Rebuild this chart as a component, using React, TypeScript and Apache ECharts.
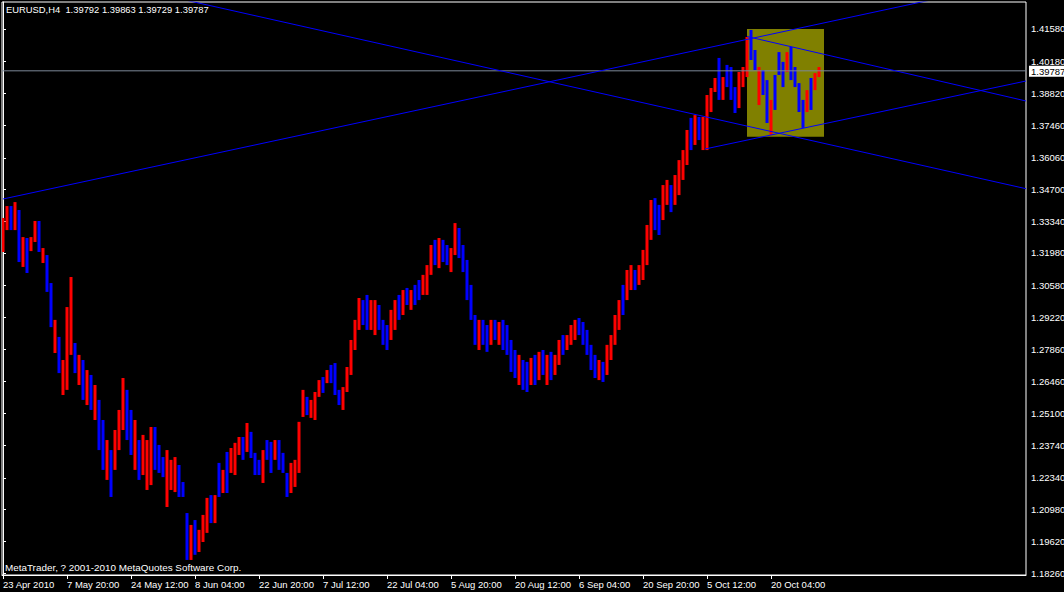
import React, { useEffect, useRef } from 'react';
import * as echarts from 'echarts';

const symbolTitle = 'EURUSD,H4  1.39792 1.39863 1.39729 1.39787';
const copyright = 'MetaTrader, ? 2001-2010 MetaQuotes Software Corp.';

const xTickLabels = [
  '23 Apr 2010', '7 May 20:00', '24 May 12:00', '8 Jun 04:00', '22 Jun 20:00',
  '7 Jul 12:00', '22 Jul 04:00', '5 Aug 20:00', '20 Aug 12:00', '6 Sep 04:00',
  '20 Sep 20:00', '5 Oct 12:00', '20 Oct 04:00',
];
const BARS_PER_LABEL = 16;

const yTickValues = [
  1.1826, 1.1962, 1.2098, 1.2234, 1.2374, 1.251, 1.2646, 1.2786, 1.2922,
  1.3058, 1.3198, 1.3334, 1.347, 1.3606, 1.3746, 1.3882, 1.4018, 1.4158,
];

const highs = [
  1.3348, 1.3399, 1.3399, 1.3416, 1.3382, 1.3266, 1.3262, 1.3266, 1.3335, 1.3335,
  1.3219, 1.3189, 1.3069, 1.2911, 1.2838, 1.2739, 1.2966, 1.3095, 1.2812, 1.2761,
  1.2739, 1.2696, 1.2675, 1.2632, 1.2568, 1.2482, 1.2396, 1.2353, 1.2439, 1.2525,
  1.2662, 1.2611, 1.2525, 1.2482, 1.2396, 1.2418, 1.2396, 1.2452, 1.2452, 1.2375,
  1.2323, 1.2353, 1.2311, 1.2323, 1.2289, 1.2216, 1.2083, 1.2032, 1.2053, 1.2011,
  1.2075, 1.2148, 1.216, 1.216, 1.2298, 1.2268, 1.2345, 1.2362, 1.2384, 1.2409,
  1.2409, 1.2469, 1.2431, 1.2341, 1.2311, 1.2353, 1.2396, 1.2388, 1.2396, 1.2396,
  1.2341, 1.2255, 1.2298, 1.2311, 1.2474, 1.2611, 1.2581, 1.2568, 1.2602, 1.2653,
  1.2666, 1.2696, 1.2718, 1.2726, 1.2611, 1.2623, 1.2709, 1.2825, 1.2911, 1.3005,
  1.2996, 1.3018, 1.2996, 1.2996, 1.2975, 1.2911, 1.2889, 1.2954, 1.2996, 1.3018,
  1.3039, 1.3048, 1.3039, 1.3061, 1.3082, 1.3104, 1.3146, 1.3232, 1.3254, 1.3262,
  1.3254, 1.3232, 1.3219, 1.3326, 1.3305, 1.3232, 1.3168, 1.3061, 1.2932, 1.2911,
  1.2911, 1.2889, 1.2911, 1.2911, 1.2902, 1.2911, 1.2889, 1.2825, 1.2782, 1.2761,
  1.2739, 1.2731, 1.2748, 1.2761, 1.2774, 1.2782, 1.2761, 1.2774, 1.2761, 1.2825,
  1.2846, 1.2846, 1.2889, 1.2911, 1.2919, 1.2902, 1.2868, 1.2804, 1.2761, 1.2739,
  1.2731, 1.2804, 1.2846, 1.2932, 1.2996, 1.3061, 1.3125, 1.3146, 1.3125, 1.3146,
  1.3211, 1.3318, 1.3425, 1.3433, 1.3404, 1.3489, 1.3511, 1.3489, 1.3532, 1.3596,
  1.3639, 1.3725, 1.3777, 1.3789, 1.3781, 1.3781, 1.3875, 1.3905, 1.3948, 1.4034,
  1.3952, 1.4004, 1.3995, 1.3909, 1.3974, 1.3995, 1.4124, 1.4154, 1.4068, 1.3995,
  1.3982, 1.3939, 1.3854, 1.3961, 1.4059, 1.4017, 1.4059, 1.4081, 1.3995, 1.3926,
  1.3854, 1.3896, 1.3948, 1.3969, 1.3995,
];

const lows = [
  1.3202, 1.3296, 1.3296, 1.3296, 1.3159, 1.3138, 1.3112, 1.3206, 1.3245, 1.3202,
  1.3155, 1.3031, 1.288, 1.2769, 1.2683, 1.2589, 1.2611, 1.2761, 1.2683, 1.2632,
  1.2568, 1.2546, 1.2525, 1.2482, 1.2353, 1.2268, 1.2225, 1.2152, 1.2268, 1.2353,
  1.2439, 1.2396, 1.2332, 1.2268, 1.2225, 1.2246, 1.2182, 1.2203, 1.2268, 1.2255,
  1.2237, 1.2109, 1.2182, 1.2173, 1.2152, 1.2152, 1.1882, 1.1882, 1.1904, 1.1916,
  1.1959, 1.1998, 1.204, 1.204, 1.2152, 1.2169, 1.2169, 1.2255, 1.2246, 1.2332,
  1.2311, 1.2345, 1.2319, 1.2246, 1.2246, 1.2212, 1.2311, 1.2255, 1.2311, 1.2268,
  1.2255, 1.2152, 1.2169, 1.2195, 1.2255, 1.2495, 1.2503, 1.2491, 1.2482, 1.2581,
  1.2598, 1.264, 1.264, 1.2589, 1.2546, 1.2525, 1.2602, 1.2675, 1.2782, 1.2868,
  1.2889, 1.2868, 1.2868, 1.2846, 1.2868, 1.2804, 1.2782, 1.2825, 1.2868, 1.2911,
  1.2932, 1.2975, 1.2954, 1.2975, 1.2996, 1.3018, 1.3018, 1.3104, 1.3146, 1.3133,
  1.3159, 1.3146, 1.3116, 1.3189, 1.3176, 1.3116, 1.2996, 1.2911, 1.2804, 1.2782,
  1.2804, 1.2774, 1.2804, 1.2825, 1.2804, 1.2782, 1.2761, 1.2688, 1.2662, 1.2632,
  1.2611, 1.2602, 1.2632, 1.2632, 1.2653, 1.2675, 1.2632, 1.2653, 1.2675, 1.2718,
  1.2761, 1.2782, 1.2804, 1.2825, 1.2846, 1.2804, 1.2761, 1.2696, 1.2662, 1.2653,
  1.2645, 1.2675, 1.2739, 1.2804, 1.2868, 1.2932, 1.2996, 1.3039, 1.3039, 1.3061,
  1.3082, 1.3146, 1.3254, 1.3296, 1.3275, 1.3339, 1.3404, 1.3373, 1.3404, 1.3446,
  1.3511, 1.3575, 1.3639, 1.3661, 1.3682, 1.3639, 1.3639, 1.3802, 1.3888, 1.3854,
  1.3854, 1.3909, 1.3854, 1.3798, 1.3819, 1.3909, 1.3952, 1.4025, 1.3982, 1.3832,
  1.3875, 1.3755, 1.3704, 1.3811, 1.3961, 1.3909, 1.3974, 1.3939, 1.3909, 1.3802,
  1.3734, 1.3802, 1.3811, 1.3896, 1.3952,
];

// 1 = up bar (red), 0 = down bar (blue)
const ups = [
  1, 1, 0, 1, 0, 1, 0, 1, 1, 0,
  1, 0, 0, 1, 0, 1, 1, 1, 0, 1,
  0, 1, 0, 1, 0, 0, 1, 0, 1, 1,
  1, 0, 0, 1, 0, 1, 1, 1, 0, 0,
  0, 1, 1, 1, 0, 0, 0, 1, 0, 1,
  1, 1, 0, 1, 0, 1, 0, 1, 1, 1,
  0, 1, 0, 0, 0, 1, 0, 0, 1, 0,
  0, 0, 1, 1, 1, 1, 0, 1, 1, 1,
  0, 1, 0, 0, 0, 1, 1, 1, 1, 1,
  0, 0, 1, 1, 0, 0, 0, 1, 1, 0,
  1, 0, 1, 0, 0, 1, 1, 1, 0, 1,
  0, 0, 1, 1, 0, 0, 0, 0, 0, 1,
  0, 0, 1, 0, 1, 0, 0, 0, 0, 1,
  0, 0, 1, 0, 1, 0, 1, 0, 1, 1,
  0, 1, 1, 1, 0, 0, 0, 0, 0, 1,
  0, 1, 1, 1, 1, 0, 1, 1, 0, 1,
  1, 1, 1, 0, 0, 1, 1, 0, 1, 1,
  1, 1, 0, 1, 0, 1, 1, 1, 1, 0,
  1, 0, 0, 0, 1, 1, 1, 0, 0, 1,
  0, 0, 1, 0, 0, 0, 1, 0, 0, 0,
  0, 1, 0, 1, 1,
];

const lastPrice = 1.39787;

// trend lines: [barIndex, price] endpoints
const trendA = [[0, 1.34292], [250, 1.43488]];
const trendB = [[36.75, 1.43162], [255.75, 1.34734]];
const trendC = [[186, 1.41258], [255.75, 1.38494]];
const trendD = [[175.5, 1.36436], [255.75, 1.39351]];
// highlight rectangle: [fromBar, topPrice, toBar, bottomPrice]
const highlightBox = [186, 1.4158, 205.25, 1.36963];

const X_MIN = -0.25;
const X_MAX = 255.75;
const Y_MIN = 1.181747;
const Y_MAX = 1.427374;

const FONT = "'Liberation Sans', Arial, sans-serif";

export default function App() {
  const ref = useRef<HTMLDivElement>(null);
  useEffect(() => {
    const chart = echarts.init(ref.current!, null, { renderer: 'svg' });
    const barData = highs.map((h, i) => [i, h, lows[i], ups[i]]);
    const lineSeries = (data: number[][], color = '#0000ff', z = 4) => ({
      type: 'line',
      data,
      symbol: 'none',
      clip: true,
      silent: true,
      z,
      lineStyle: { color, width: 1 },
    });
    chart.setOption({
      animation: false,
      backgroundColor: '#000',
      title: [
        {
          text: symbolTitle,
          left: 6,
          top: 5,
          padding: 0,
          textStyle: { color: '#fff', fontSize: 9.4, fontWeight: 'normal', fontFamily: FONT },
        },
        {
          text: copyright,
          left: 5,
          top: 562,
          padding: 0,
          textStyle: { color: '#fff', fontSize: 9.9, fontWeight: 'normal', fontFamily: FONT },
        },
      ],
      grid: {
        left: 2,
        top: 2,
        right: 38,
        bottom: 17,
        outerBoundsMode: 'none',
        containLabel: false,
        show: true,
        borderColor: '#fff',
        borderWidth: 1,
        backgroundColor: '#000',
      },
      xAxis: {
        type: 'value',
        min: X_MIN,
        max: X_MAX,
        splitLine: { show: false },
        axisLine: { show: true, lineStyle: { color: '#fff', width: 1 } },
        axisTick: {
          show: true,
          length: 4,
          lineStyle: { color: '#fff' },
          customValues: xTickLabels.map((_, k) => k * BARS_PER_LABEL),
        },
        axisLabel: {
          color: '#fff',
          fontSize: 9.5,
          fontFamily: FONT,
          margin: 4,
          align: 'left',
          hideOverlap: false,
          customValues: xTickLabels.map((_, k) => k * BARS_PER_LABEL),
          formatter: (v: number) => xTickLabels[Math.round(v / BARS_PER_LABEL)] ?? '',
        },
      },
      yAxis: {
        type: 'value',
        position: 'right',
        min: Y_MIN,
        max: Y_MAX,
        splitLine: { show: false },
        axisLine: { show: true, lineStyle: { color: '#fff', width: 1 } },
        axisTick: {
          show: true,
          length: 3,
          lineStyle: { color: '#fff' },
          customValues: yTickValues,
        },
        axisLabel: {
          color: '#fff',
          fontSize: 9.5,
          lineHeight: 9,
          fontFamily: FONT,
          margin: 5,
          customValues: yTickValues,
          formatter: (v: number) => v.toFixed(5),
        },
      },
      series: [
        {
          type: 'custom',
          silent: true,
          z: 1,
          clip: true,
          data: [highlightBox],
          renderItem: (params: any, api: any) => {
            const p1 = api.coord([api.value(0), api.value(1)]);
            const p2 = api.coord([api.value(2), api.value(3)]);
            return {
              type: 'rect',
              shape: { x: p1[0], y: p1[1], width: p2[0] - p1[0], height: p2[1] - p1[1] },
              style: { fill: '#808000' },
            };
          },
        },
        {
          type: 'custom',
          silent: true,
          z: 2,
          clip: true,
          data: barData,
          encode: { x: 0, y: [1, 2] },
          renderItem: (params: any, api: any) => {
            const i = api.value(0);
            const top = api.coord([i, api.value(1)]);
            const bot = api.coord([i, api.value(2)]);
            return {
              type: 'rect',
              shape: {
                x: Math.round(top[0]) - 1.5,
                y: top[1],
                width: 3,
                height: Math.max(1, bot[1] - top[1]),
              },
              style: { fill: api.value(3) ? '#ff0000' : '#0000ff' },
            };
          },
        },
        lineSeries([[X_MIN, lastPrice], [X_MAX, lastPrice]], '#7d8898', 3),
        {
          type: 'custom',
          silent: true,
          z: 6,
          clip: false,
          data: [[X_MAX, lastPrice]],
          renderItem: (params: any, api: any) => {
            const p = api.coord([api.value(0), api.value(1)]);
            return {
              type: 'text',
              x: p[0] + 3,
              y: p[1] + 0.5,
              style: {
                text: api.value(1).toFixed(5),
                fill: '#000',
                backgroundColor: '#fff',
                padding: [1, 2, 0, 2],
                font: `9.5px ${FONT}`,
                align: 'left',
                verticalAlign: 'middle',
              },
            };
          },
        },
        lineSeries(trendA),
        lineSeries(trendB),
        lineSeries(trendC),
        lineSeries(trendD),
      ],
    });
    return () => chart.dispose();
  }, []);
  return (
    <div
      ref={ref}
      style={{ position: 'fixed', left: 0, top: 0, width: 1064, height: 592, background: '#000' }}
    />
  );
}
